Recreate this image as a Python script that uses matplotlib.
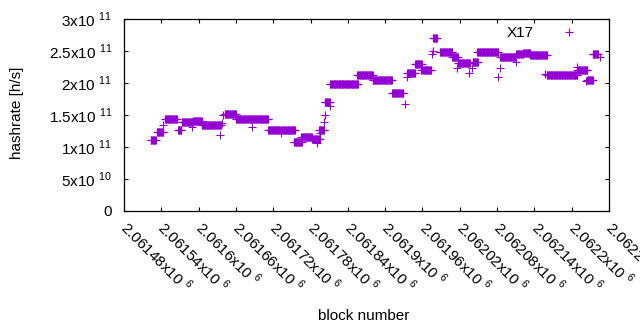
import numpy as np
import matplotlib.pyplot as plt
from matplotlib.transforms import ScaledTranslation

plt.rcParams['font.family'] = 'Liberation Sans'
plt.rcParams['mathtext.fontset'] = 'custom'
plt.rcParams['mathtext.rm'] = 'Liberation Sans'

# plateaus: consecutive blocks with the same hashrate
run_start = [2061523, 2061533, 2061546, 2061567, 2061573, 2061591, 2061605, 2061642,
             2061660, 2061712, 2061733, 2061753, 2061765, 2061782, 2061794, 2061803,
             2061811, 2061855, 2061880, 2061911, 2061935, 2061948, 2061958, 2061977,
             2061988, 2062008, 2062017, 2062041, 2062048, 2062085, 2062111, 2062122,
             2062133, 2062160, 2062209, 2062225, 2062234]
run_end = [2061531, 2061543, 2061565, 2061572, 2061591, 2061605, 2061636, 2061660,
           2061712, 2061731, 2061755, 2061766, 2061782, 2061795, 2061802, 2061811,
           2061856, 2061880, 2061911, 2061929, 2061948, 2061959, 2061974, 2061983,
           2062008, 2062017, 2062036, 2062049, 2062082, 2062109, 2062122, 2062133,
           2062160, 2062209, 2062225, 2062234, 2062242]
run_value = [1.11e11, 1.23e11, 1.445e11, 1.26e11, 1.385e11, 1.41e11, 1.34e11, 1.52e11,
             1.43e11, 1.26e11, 1.27e11, 1.08e11, 1.15e11, 1.12e11, 1.26e11, 1.71e11,
             1.98e11, 2.13e11, 2.04e11, 1.84e11, 2.15e11, 2.30e11, 2.20e11, 2.70e11,
             2.48e11, 2.41e11, 2.32e11, 2.33e11, 2.48e11, 2.40e11, 2.45e11, 2.47e11,
             2.44e11, 2.12e11, 2.20e11, 2.05e11, 2.46e11]

# isolated points
single_block = [2061543, 2061568, 2061589, 2061634, 2061638, 2061639, 2061686, 2061732,
                2061790, 2061795, 2061802, 2061803, 2061811, 2061932, 2061935, 2061975,
                2061977, 2062016, 2062035, 2062040, 2062082, 2062085, 2062111, 2062157,
                2062209, 2062223, 2062246]
single_value = [1.34e11, 1.27e11, 1.31e11, 1.19e11, 1.375e11, 1.50e11, 1.31e11, 1.22e11,
                1.06e11, 1.22e11, 1.39e11, 1.50e11, 1.64e11, 1.67e11, 2.09e11, 2.45e11,
                2.50e11, 2.23e11, 2.16e11, 2.23e11, 2.09e11, 2.23e11, 2.33e11, 2.14e11,
                2.25e11, 2.03e11, 2.40e11]

y_ticks = [0, 5e10, 1e11, 1.5e11, 2e11, 2.5e11, 3e11]
y_labels = ['0', '5x10 $^{10}$', '1x10 $^{11}$', '1.5x10 $^{11}$',
            '2x10 $^{11}$', '2.5x10 $^{11}$', '3x10 $^{11}$']

blocks = []
rates = []
for s, e, v in zip(run_start, run_end, run_value):
    for b in range(s, e + 1):
        blocks.append(b)
        rates.append(v)
blocks += single_block
rates += single_value

fig = plt.figure(figsize=(6.4, 3.3), dpi=100)
ax = fig.add_axes([124 / 640, 1 - 211 / 330, 485 / 640, 192 / 330])

ax.plot(blocks, rates, '+', color='#9400d3', markersize=5.2, markeredgewidth=0.8,
        linestyle='none', label='X17')

ax.set_xlim(2061480, 2062260)
ax.set_ylim(0, 3e11)

x_ticks = np.arange(2061480, 2062261, 60)
ax.set_xticks(x_ticks)
ax.set_xticklabels(['%gx10 $^{6}$' % (t / 1e6) for t in x_ticks], rotation=-45,
                   ha='left', va='center', rotation_mode='anchor')
shift = ScaledTranslation(2.5 / 100, 0, fig.dpi_scale_trans)
for lab in ax.get_xticklabels():
    lab.set_transform(lab.get_transform() + shift)
ax.set_yticks(y_ticks)
ax.set_yticklabels(y_labels)

ax.tick_params(direction='in', length=3.2, width=0.8, top=True, right=True,
               labelsize=11)
ax.tick_params(axis='y', pad=8.5)
ax.tick_params(axis='x', pad=9.7)
for sp in ax.spines.values():
    sp.set_linewidth(0.9)

fig.text(17 / 640, 1 - 112.5 / 330, 'hashrate [h/s]', rotation=90,
         ha='center', va='center', fontsize=11)
fig.text(364 / 640, 1 - 316 / 330, 'block number', ha='center', va='center',
         fontsize=11)

ax.legend(loc='upper right', bbox_to_anchor=(0.948, 0.962), markerfirst=False,
          frameon=False, fontsize=11, handlelength=2.0, handletextpad=1.27,
          borderaxespad=0, borderpad=0)

fig.savefig('out.png', dpi=100)
